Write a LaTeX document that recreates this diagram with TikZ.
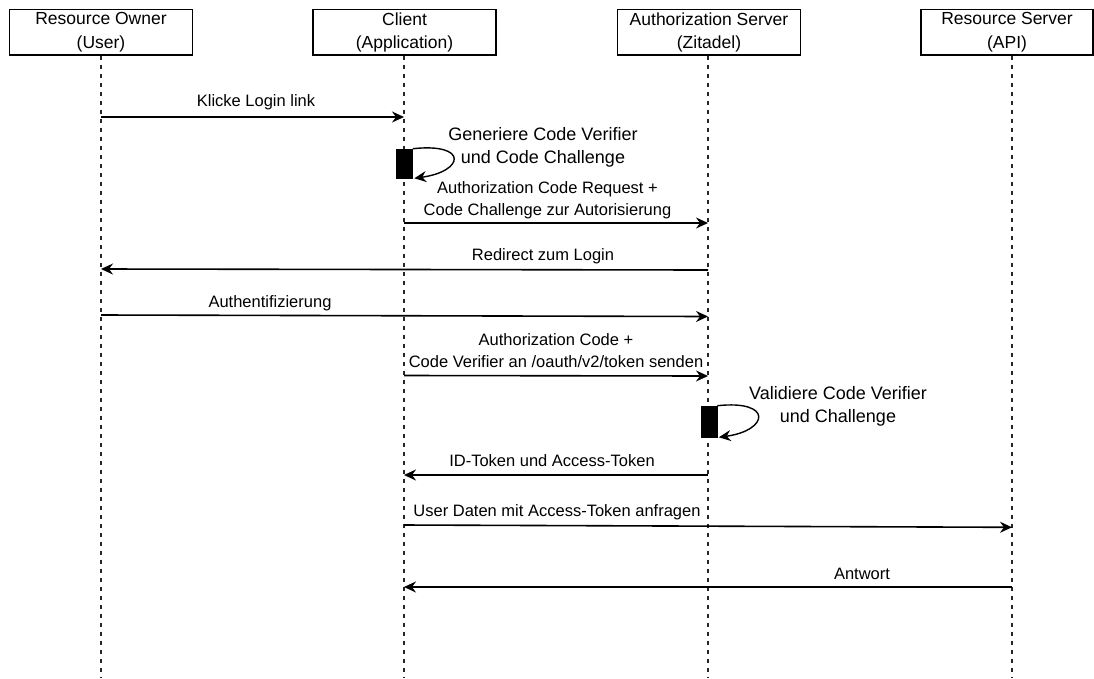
\documentclass[tikz,border=0pt]{standalone}
\usepackage{fontspec}
\setmainfont{Liberation Sans}
\usetikzlibrary{arrows.meta}
\begin{document}
\begin{tikzpicture}[x=1pt,y=-1pt,
  actor/.style={draw, line width=1.4pt, minimum height=45.5pt, inner sep=0pt,
    align=center, font=\fontsize{17.5}{23.5}\selectfont},
  life/.style={line width=1.3pt, draw=black!85, dash pattern=on 4pt off 5pt},
  msg/.style={line width=1.6pt, -{Stealth[length=12pt,width=11pt,inset=4pt]}},
  lbl/.style={inner sep=0pt, align=center, font=\fontsize{16.5}{22.5}\selectfont},
  note/.style={inner sep=0pt, align=center, font=\fontsize{18}{23}\selectfont},
  act/.style={fill=black, draw=black, line width=0.6pt, minimum width=16pt, inner sep=0pt},
]
\useasboundingbox (0,0) rectangle (1094,678);

% participants
\node[actor, minimum width=183pt] (owner)  at (101,32.25)   {Resource Owner\\(User)};
\node[actor, minimum width=183pt] (client) at (404.5,32.25) {Client\\(Application)};
\node[actor, minimum width=183pt] (authz)  at (709,32.25)   {Authorization Server\\(Zitadel)};
\node[actor, minimum width=172pt] (rs)     at (1007,32.25)  {Resource Server\\(API)};

% lifelines
\coordinate (ownerEnd)  at (101,678);
\coordinate (clientEnd) at (404,678);
\coordinate (authzEnd)  at (708,678);
\coordinate (rsEnd)     at (1012,678);
\draw[life] (owner.south -| ownerEnd) -- (ownerEnd);
\draw[life] (client.south -| clientEnd) -- (clientEnd);
\draw[life] (authz.south -| authzEnd) -- (authzEnd);
\draw[life] (rs.south -| rsEnd) -- (rsEnd);

% message end points on the lifelines
\coordinate (o1) at (101,117);   \coordinate (c1) at (404,117);
\coordinate (c2) at (404,223);   \coordinate (a2) at (708,223);
\coordinate (a3) at (708,270);   \coordinate (o3) at (101,269);
\coordinate (o4) at (101,315);   \coordinate (a4) at (708,316.5);
\coordinate (c5) at (404,375.5); \coordinate (a5) at (708,376);
\coordinate (a6) at (708,475);   \coordinate (c6) at (404,475);
\coordinate (c7) at (404,525);   \coordinate (r7) at (1012,527.3);
\coordinate (r8) at (1012,587);  \coordinate (c8) at (404,587);

% 1: login link
\draw[msg] (o1) -- (c1);
\node[lbl] (t1) at (256,102) {Klicke Login link};

% self call on the client
\node[act, minimum height=29pt] (act1) at (404.5,163.5) {};
\draw[msg, line width=1.4pt] (act1.north east) .. controls +(56,-6) and +(50,-7) .. ([xshift=1.5pt]act1.south east);
\node[note] (t2) at (543,147.5) {Generiere Code Verifier\\und Code Challenge};

% 2: authorization request
\draw[msg] (c2) -- (a2);
\node[lbl] (t3) at (547.5,200) {Authorization Code Request +\\Code Challenge zur Autorisierung};

% 3: redirect
\draw[msg] (a3) -- (o3);
\node[lbl] (t4) at (543,256.5) {Redirect zum Login};

% 4: authentication
\draw[msg] (o4) -- (a4);
\node[lbl] (t5) at (270,303) {Authentifizierung};

% 5: token request
\draw[msg] (c5) -- (a5);
\node[lbl] (t6) at (556,350.5) {Authorization Code +\\Code Verifier an /oauth/v2/token senden};

% self call on the authorization server
\node[act, minimum height=31pt] (act2) at (709,421.5) {};
\draw[msg, line width=1.4pt] (act2.north east) .. controls +(56,-6) and +(50,-7) .. ([xshift=1.5pt]act2.south east);
\node[note] (t7) at (838,406.5) {Validiere Code Verifier\\und Challenge};

% 6: tokens
\draw[msg] (a6) -- (c6);
\node[lbl] (t8) at (552,461) {ID-Token und Access-Token};

% 7: API request
\draw[msg] (c7) -- (r7);
\node[lbl] (t9) at (557,512.5) {User Daten mit Access-Token anfragen};

% 8: API response
\draw[msg] (r8) -- (c8);
\node[lbl] (t10) at (862,573.5) {Antwort};
\end{tikzpicture}
\end{document}
